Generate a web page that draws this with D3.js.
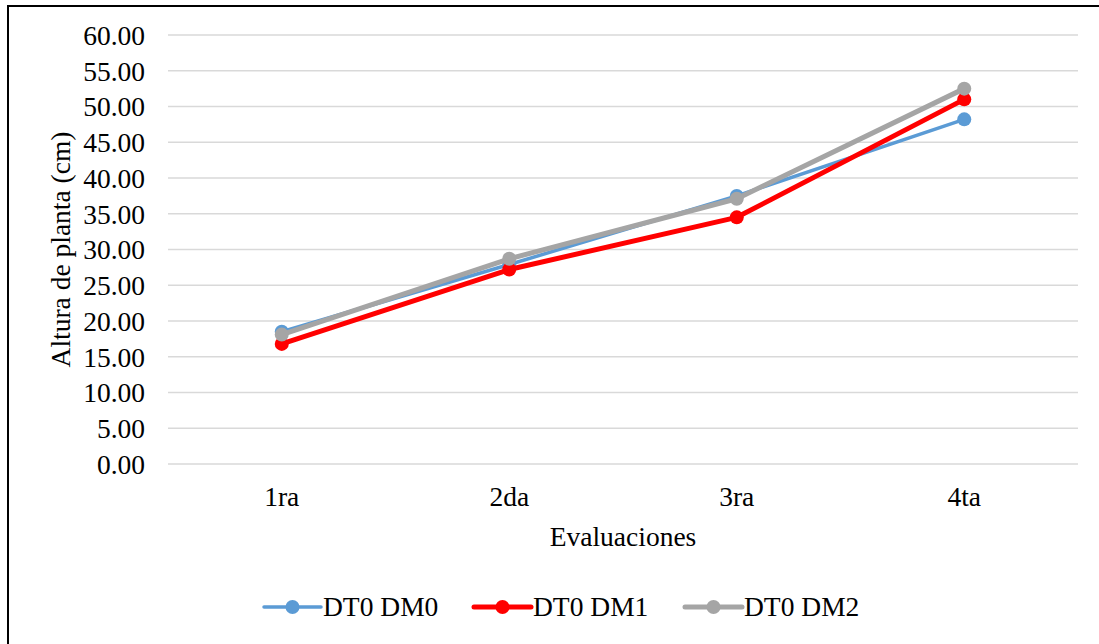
<!DOCTYPE html>
<html><head><meta charset="utf-8">
<script src="https://cdn.jsdelivr.net/npm/d3@7"></script>
<style>body{margin:0;background:#fff;} svg{display:block;} svg text{font-family:"Liberation Serif","Times New Roman",Times,"DejaVu Serif",serif !important;}</style>
</head><body>
<svg id="chart" width="1099" height="644"></svg>
<script>
const categories = ["1ra", "2da", "3ra", "4ta"];
const seriesNames = ["DT0 DM0", "DT0 DM1", "DT0 DM2"];
const dm0 = [18.5, 27.9, 37.5, 48.2];
const dm1 = [16.8, 27.2, 34.5, 51.0];
const dm2 = [18.1, 28.7, 37.1, 52.5];
const yTicks = [0, 5, 10, 15, 20, 25, 30, 35, 40, 45, 50, 55, 60];
const colors = ["#5B9BD5", "#FF0000", "#A5A5A5"];
const widths = [3.5, 5, 5];

const series = [dm0, dm1, dm2].map((v, i) => ({name: seriesNames[i], values: v, color: colors[i], w: widths[i]}));

const svg = d3.select("#chart");
const font = "Liberation Serif";
const fs = 27.5;

// frame
svg.append("rect").attr("x", 8).attr("y", 6).attr("width", 1200).attr("height", 800)
  .attr("fill", "none").attr("stroke", "#000").attr("stroke-width", 2);

const x = d3.scaleBand().domain(categories).range([168, 1078]);
const y = d3.scaleLinear().domain([0, 60]).range([464, 35]);

// grid
svg.append("g").selectAll("line").data(yTicks).join("line")
  .attr("x1", 168).attr("x2", 1078)
  .attr("y1", d => y(d)).attr("y2", d => y(d))
  .attr("stroke", "#D9D9D9").attr("stroke-width", 1.5);

// y axis labels
const yAxis = d3.axisLeft(y).tickValues(yTicks).tickFormat(d3.format(".2f")).tickSize(0).tickPadding(0);
const gy = svg.append("g").attr("transform", "translate(145,0)").call(yAxis);
gy.select(".domain").remove();
gy.attr("font-family", font).attr("font-size", fs);
gy.selectAll("text").attr("fill", "#000").attr("dy", "0.34em");

// x axis labels
const xAxis = d3.axisBottom(x).tickSize(0).tickPadding(0);
const gx = svg.append("g").attr("transform", "translate(0,506)").call(xAxis);
gx.select(".domain").remove();
gx.attr("font-family", font).attr("font-size", fs);
gx.selectAll("text").attr("fill", "#000").attr("dy", "0");

// axis titles
svg.append("text").attr("x", 623).attr("y", 546).attr("text-anchor", "middle")
  .attr("font-family", font).attr("font-size", fs).attr("fill", "#000").text("Evaluaciones");
svg.append("text").attr("transform", "translate(70,249.5) rotate(-90)").attr("text-anchor", "middle")
  .attr("font-family", font).attr("font-size", fs).attr("fill", "#000").text("Altura de planta (cm)");

// lines
const line = d3.line().x((d, i) => x(categories[i]) + x.bandwidth() / 2).y(d => y(d));
series.forEach(s => {
  const g = svg.append("g");
  g.append("path").attr("d", line(s.values)).attr("fill", "none")
    .attr("stroke", s.color).attr("stroke-width", s.w).attr("stroke-linejoin", "round").attr("stroke-linecap", "round");
  g.selectAll("circle").data(s.values).join("circle")
    .attr("cx", (d, i) => x(categories[i]) + x.bandwidth() / 2)
    .attr("cy", d => y(d)).attr("r", 7).attr("fill", s.color);
});

// legend
const legX = [264, 474, 685];
const legY = 607;
series.forEach((s, i) => {
  const g = svg.append("g").attr("transform", `translate(${legX[i]},${legY})`);
  g.append("line").attr("x1", 0).attr("x2", 57).attr("y1", 0).attr("y2", 0)
    .attr("stroke", s.color).attr("stroke-width", s.w).attr("stroke-linecap", "round");
  g.append("circle").attr("cx", 28.5).attr("cy", 0).attr("r", 7).attr("fill", s.color);
  g.append("text").attr("x", 59).attr("y", 0).attr("dy", "0.34em")
    .attr("font-family", font).attr("font-size", fs).attr("fill", "#000").text(s.name);
});
</script>
</body></html>
